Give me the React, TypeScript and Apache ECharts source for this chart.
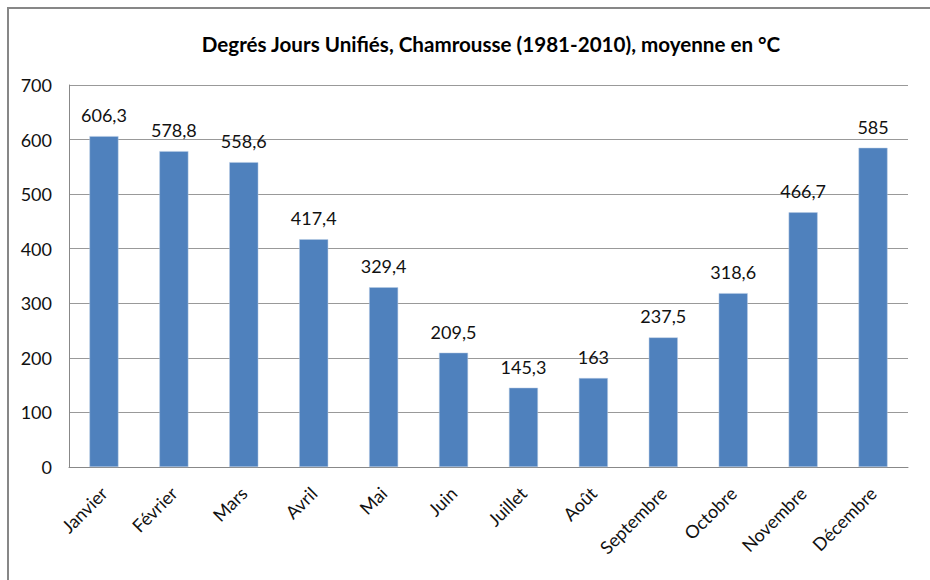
import React, { useEffect, useRef } from "react";
import * as echarts from "echarts";

const months = [
  "Janvier", "Février", "Mars", "Avril", "Mai", "Juin",
  "Juillet", "Août", "Septembre", "Octobre", "Novembre", "Décembre",
];
const values = [606.3, 578.8, 558.6, 417.4, 329.4, 209.5, 145.3, 163, 237.5, 318.6, 466.7, 585];
const yMin = 0;
const yMax = 700;
const yStep = 100;
const title = "Degrés Jours Unifiés, Chamrousse (1981-2010), moyenne en °C";

const FONT = "Lato, 'Open Sans', sans-serif";

export default function App() {
  const ref = useRef<HTMLDivElement>(null);
  useEffect(() => {
    if (!ref.current) return;
    const chart = echarts.init(ref.current, undefined, { renderer: "svg" });
    chart.setOption({
      animation: false,
      backgroundColor: "#ffffff",
      textStyle: { fontFamily: FONT },
      title: {
        text: title,
        left: 486,
        textAlign: "center",
        top: 28,
        textStyle: { fontFamily: FONT, fontSize: 20.6, fontWeight: "bold", color: "#000" },
      },
      graphic: [
        { type: "line", shape: { x1: 7, y1: 8, x2: 930, y2: 8 }, style: { stroke: "#878787", lineWidth: 2 } },
        { type: "line", shape: { x1: 8, y1: 7, x2: 8, y2: 580 }, style: { stroke: "#878787", lineWidth: 2 } },
      ],
      grid: { left: 69, right: 22, top: 85, bottom: 113 },
      xAxis: {
        type: "category",
        data: months,
        axisLine: { show: true, lineStyle: { color: "#888", width: 1 } },
        axisTick: { show: false },
        axisLabel: {
          rotate: 45,
          interval: 0,
          margin: 23,
          fontFamily: FONT,
          fontSize: 18,
          color: "#111",
        },
      },
      yAxis: {
        type: "value",
        min: yMin,
        max: yMax,
        interval: yStep,
        axisLine: { show: true, lineStyle: { color: "#888", width: 1 } },
        axisTick: { show: false },
        splitLine: { lineStyle: { color: "#999999", width: 1 } },
        axisLabel: { margin: 17, fontFamily: FONT, fontSize: 18, color: "#111" },
      },
      series: [
        {
          type: "bar",
          data: values,
          barWidth: 29,
          itemStyle: { color: "#4F81BD", borderColor: "#B9CDE5", borderWidth: 0.5 },
          label: {
            show: true,
            position: "top",
            distance: 12,
            fontFamily: FONT,
            fontSize: 18,
            color: "#111",
            formatter: (p: any) => String(p.value).replace(".", ","),
          },
        },
      ],
    });
    return () => chart.dispose();
  }, []);
  return (
    <div
      ref={ref}
      style={{ position: "fixed", left: 0, top: 0, width: 930, height: 580 }}
    />
  );
}
